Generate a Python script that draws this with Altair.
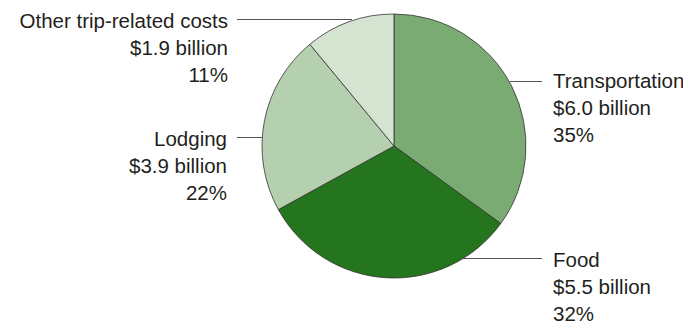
import altair as alt
import pandas as pd

# Data
categories = ["Transportation", "Food", "Lodging", "Other trip-related costs"]
billions = [6.0, 5.5, 3.9, 1.9]
percents = [35, 32, 22, 11]
colors = ["#79ab73", "#25751f", "#b4d0ae", "#d4e4d1"]

df = pd.DataFrame({
    "category": categories,
    "billions": billions,
    "percent": percents,
    "order": list(range(len(categories))),
})
df["label"] = [f"{c}\n${b:.1f} billion\n{p}%" for c, b, p in zip(categories, billions, percents)]

# Layout (styling / label placement, chart pixel coords)
CX, CY, R = 386, 138, 132
label_layout = pd.DataFrame({
    "category": categories,
    "tx": [545, 545, 219, 220],
    "ty": [80, 259, 138, 20],
    "align": ["left", "left", "right", "right"],
    "lx1": [502, 455, 229, 229],
    "lx2": [534, 534, 254, 344],
    "ly": [73.5, 250.5, 129.5, 11.5],
})
lab = df.merge(label_layout, on="category")

W, H = 675, 313

pie = alt.Chart(df).mark_arc(
    outerRadius=R, stroke="#333333", strokeWidth=0.8
).encode(
    theta=alt.Theta("percent:Q", stack=True),
    order=alt.Order("order:Q"),
    color=alt.Color("category:N", scale=alt.Scale(domain=categories, range=colors), legend=None),
    x=alt.value(CX),
    y=alt.value(CY),
)

rules = alt.Chart(lab).mark_rule(color="#555555", strokeWidth=1).encode(
    x=alt.X("lx1:Q", scale=None),
    x2="lx2:Q",
    y=alt.Y("ly:Q", scale=None),
)

def text_layer(align):
    sub = lab[lab["align"] == align]
    return alt.Chart(sub).mark_text(
        align=align, baseline="alphabetic", lineBreak="\n", lineHeight=27,
        font="Liberation Sans", fontSize=20.5, color="#231f20"
    ).encode(
        x=alt.X("tx:Q", scale=None),
        y=alt.Y("ty:Q", scale=None),
        text="label:N",
    )

chart = alt.layer(pie, rules, text_layer("left"), text_layer("right")).properties(
    width=W, height=H, padding=0, autosize=alt.AutoSizeParams(type="none")
).configure_view(stroke=None)

chart.save("out.html", embed_options={"renderer": "svg", "actions": False})
